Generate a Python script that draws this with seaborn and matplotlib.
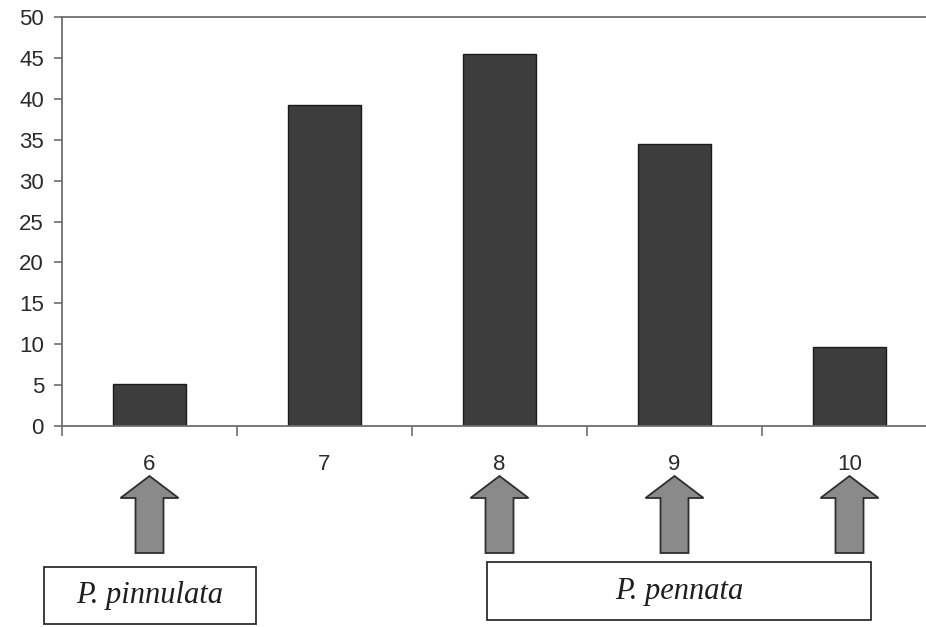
import matplotlib
matplotlib.use("Agg")
import matplotlib.pyplot as plt
import matplotlib.transforms as mtransforms
from matplotlib.patches import Polygon, Rectangle
import numpy as np
import pandas as pd
import seaborn as sns

categories = ["6", "7", "8", "9", "10"]
values = [5.1, 39.2, 45.5, 34.5, 9.6]
yticks = [0, 5, 10, 15, 20, 25, 30, 35, 40, 45, 50]
arrow_cats = ["6", "8", "9", "10"]
species_labels = ["P. pinnulata", "P. pennata"]

sns.set_theme(style="white")
plt.rcParams["font.family"] = ["Liberation Sans", "DejaVu Sans"]

fig = plt.figure(figsize=(9.26, 6.27), dpi=100)
W, H = 926, 627
ax = fig.add_axes([62 / W, 1 - 426 / H, 875 / W, (426 - 17) / H])

df = pd.DataFrame({"cat": categories, "val": values})
sns.barplot(data=df, x="cat", y="val", order=categories, color="#3d3d3d",
            saturation=1, width=0.42, edgecolor="#1a1a1a", linewidth=1.0, ax=ax)

ax.set_xlim(-0.5, len(categories) - 0.5)
ax.set_ylim(0, 50)
ax.set_yticks(yticks)
ax.set_xlabel("")
ax.set_ylabel("")

for side in ["left", "top", "bottom"]:
    ax.spines[side].set_visible(True)
    ax.spines[side].set_color("#6e6e6e")
    ax.spines[side].set_linewidth(1.3)
ax.spines["right"].set_visible(False)

ax.tick_params(axis="y", which="major", direction="out", length=6, width=1.2,
               color="#6e6e6e", labelsize=16, labelcolor="#2a2a2a", pad=7, left=True)
ax.set_xticks(np.arange(len(categories)))
ax.set_xticks(np.arange(len(categories) + 1) - 0.5, minor=True)
ax.tick_params(axis="x", which="major", length=0, labelsize=16, labelcolor="#2a2a2a", pad=20)
ax.tick_params(axis="x", which="minor", direction="out", length=7, width=1.2,
               color="#6e6e6e", bottom=True)

# Arrows below selected categories
trans = mtransforms.blended_transform_factory(ax.transData, fig.transFigure)
px_per_cat = 875 / len(categories)
head_hw = 29 / px_per_cat
shaft_hw = 14 / px_per_cat
y_top = 1 - 476 / H
y_head = 1 - 498 / H
y_bot = 1 - 553 / H
for c in arrow_cats:
    x = categories.index(c)
    pts = [(x, y_top), (x + head_hw, y_head), (x + shaft_hw, y_head),
           (x + shaft_hw, y_bot), (x - shaft_hw, y_bot), (x - shaft_hw, y_head),
           (x - head_hw, y_head)]
    fig.add_artist(Polygon(pts, closed=True, transform=trans, facecolor="#8a8a8a",
                           edgecolor="#2e2e2e", linewidth=1.3, clip_on=False))

# Species boxes
boxes = [(44, 567, 212, 57), (487, 562, 384, 58)]
for (bx, by, bw, bh), lab in zip(boxes, species_labels):
    fig.add_artist(Rectangle((bx / W, 1 - (by + bh) / H), bw / W, bh / H,
                             transform=fig.transFigure, facecolor="white",
                             edgecolor="#2e2e2e", linewidth=1.3))
    fig.text((bx + bw / 2) / W, 1 - (by + bh / 2) / H, lab, ha="center", va="center",
             fontsize=22, style="italic", family=["Liberation Serif", "DejaVu Serif"],
             color="#1e1e1e")

fig.savefig("out.png", dpi=100)
